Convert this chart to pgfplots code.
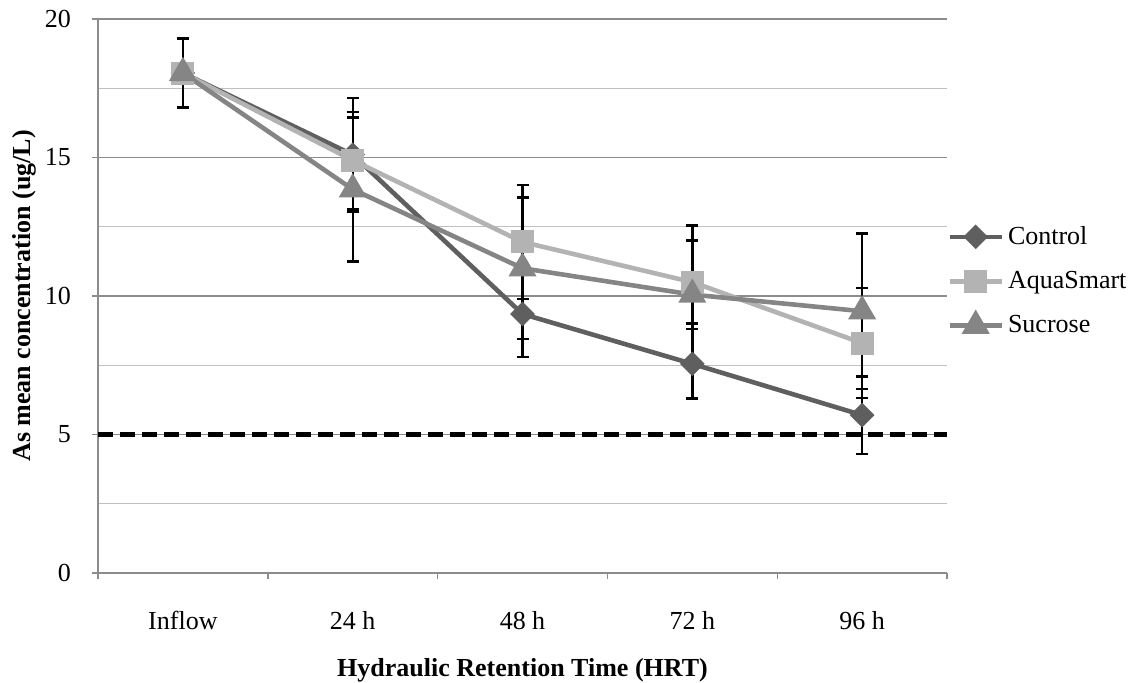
\documentclass[border=0pt]{standalone}
\usepackage{fontspec}
\setmainfont{Liberation Serif}
\usepackage{pgfplots}
\pgfplotsset{compat=1.18}
\definecolor{ctrl}{HTML}{5F5F5F}
\definecolor{aqua}{HTML}{B3B3B3}
\definecolor{sucr}{HTML}{858585}
\definecolor{majg}{HTML}{8C8C8C}
\definecolor{ming}{HTML}{C0C0C0}
\pgfplotsset{
  ebar/.style={draw=none, mark=none, forget plot,
    error bars/.cd, y dir=both, y explicit,
    error bar style={black, line width=1.2pt, solid},
    error mark options={rotate=90, mark size=3pt, line width=1.2pt, black}},
}
\begin{document}
\begin{tikzpicture}
\useasboundingbox (-49pt,-55pt) rectangle (518.5pt,286.5pt);
\begin{axis}[
  scale only axis,
  width=424.5pt, height=277pt,
  xmin=-0.5, xmax=4.5, ymin=0, ymax=20,
  font=\fontsize{13}{15.5}\selectfont,
  /pgf/number format/assume math mode=true,
  axis x line=bottom, axis y line=left,
  axis line style={-, draw=majg, line width=0.7pt},
  xtick={-0.5,0.5,1.5,2.5,3.5,4.5}, xticklabels={},
  extra x ticks={0,1,2,3,4},
  extra x tick labels={Inflow,24 h,48 h,72 h,96 h},
  extra x tick style={major tick length=0pt, xticklabel style={yshift=-15.5pt}},
  ytick={0,5,10,15,20},
  minor ytick={2.5,7.5,12.5,17.5},
  minor tick length=0pt,
  major tick length=3pt,
  tick align=outside,
  tick style={draw=majg, line width=0.7pt},
  ymajorgrids, yminorgrids,
  major grid style={draw=majg, line width=0.7pt},
  minor grid style={draw=ming, line width=0.7pt},
  yticklabel style={xshift=-7pt},
  xlabel={\textbf{Hydraulic Retention Time (HRT)}},
  ylabel={\textbf{As mean concentration (ug/L)}},
  every axis x label/.style={at={(212.25pt,-48.5pt)}, anchor=center},
  every axis y label/.style={at={(-37pt,138.5pt)}, rotate=90, anchor=center},
  legend style={draw=none, fill=none, at={(1.0,0.527)}, anchor=west,
    inner xsep=0pt, row sep=8pt, font=\fontsize{13}{15.5}\selectfont,
    nodes={inner xsep=2pt}},
  legend cell align=left,
  legend image code/.code={\draw[mark repeat=2,mark phase=2,#1] plot coordinates {(0pt,0pt)(13pt,0pt)(26pt,0pt)};},
  clip=false,
]
\addplot[black, line width=2.1pt, dash pattern=on 7.5pt off 3.5pt, forget plot] coordinates {(-0.5,5) (4.5,5)};
% error bars first, so that lines and marks lie over them
\addplot[ebar] coordinates {(0,18.05) +- (0,1.25) (1,15.1) +- (0,2.05) (2,9.35) +- (0,1.55) (3,7.55) +- (0,1.25) (4,5.7) +- (0,1.4)};
\addplot[ebar] coordinates {(0,18.05) +- (0,1.25) (1,14.9) +- (0,1.75) (2,11.95) +- (0,2.05) (3,10.5) +- (0,1.5) (4,8.3) +- (0,1.98)};
\addplot[ebar] coordinates {(0,18.05) +- (0,1.25) (1,13.85) +- (0,2.6) (2,11.0) +- (0,2.55) (3,10.05) +- (0,2.5) (4,9.45) +- (0,2.8)};
\addplot[ctrl, line width=2.3pt, mark=square*, mark size=3.2pt, mark options={rotate=45, solid, fill=ctrl, draw=ctrl}]
  coordinates {(0,18.05) (1,15.1) (2,9.35) (3,7.55) (4,5.7)};
\addlegendentry{Control}
\addplot[aqua, line width=2.3pt, mark=square*, mark size=4.6pt, mark options={solid, fill=aqua, draw=aqua}]
  coordinates {(0,18.05) (1,14.9) (2,11.95) (3,10.5) (4,8.3)};
\addlegendentry{AquaSmart}
\addplot[sucr, line width=2.3pt, mark=triangle*, mark size=5.8pt, mark options={solid, fill=sucr, draw=sucr}]
  coordinates {(0,18.05) (1,13.85) (2,11.0) (3,10.05) (4,9.45)};
\addlegendentry{Sucrose}
\end{axis}
\end{tikzpicture}
\end{document}
